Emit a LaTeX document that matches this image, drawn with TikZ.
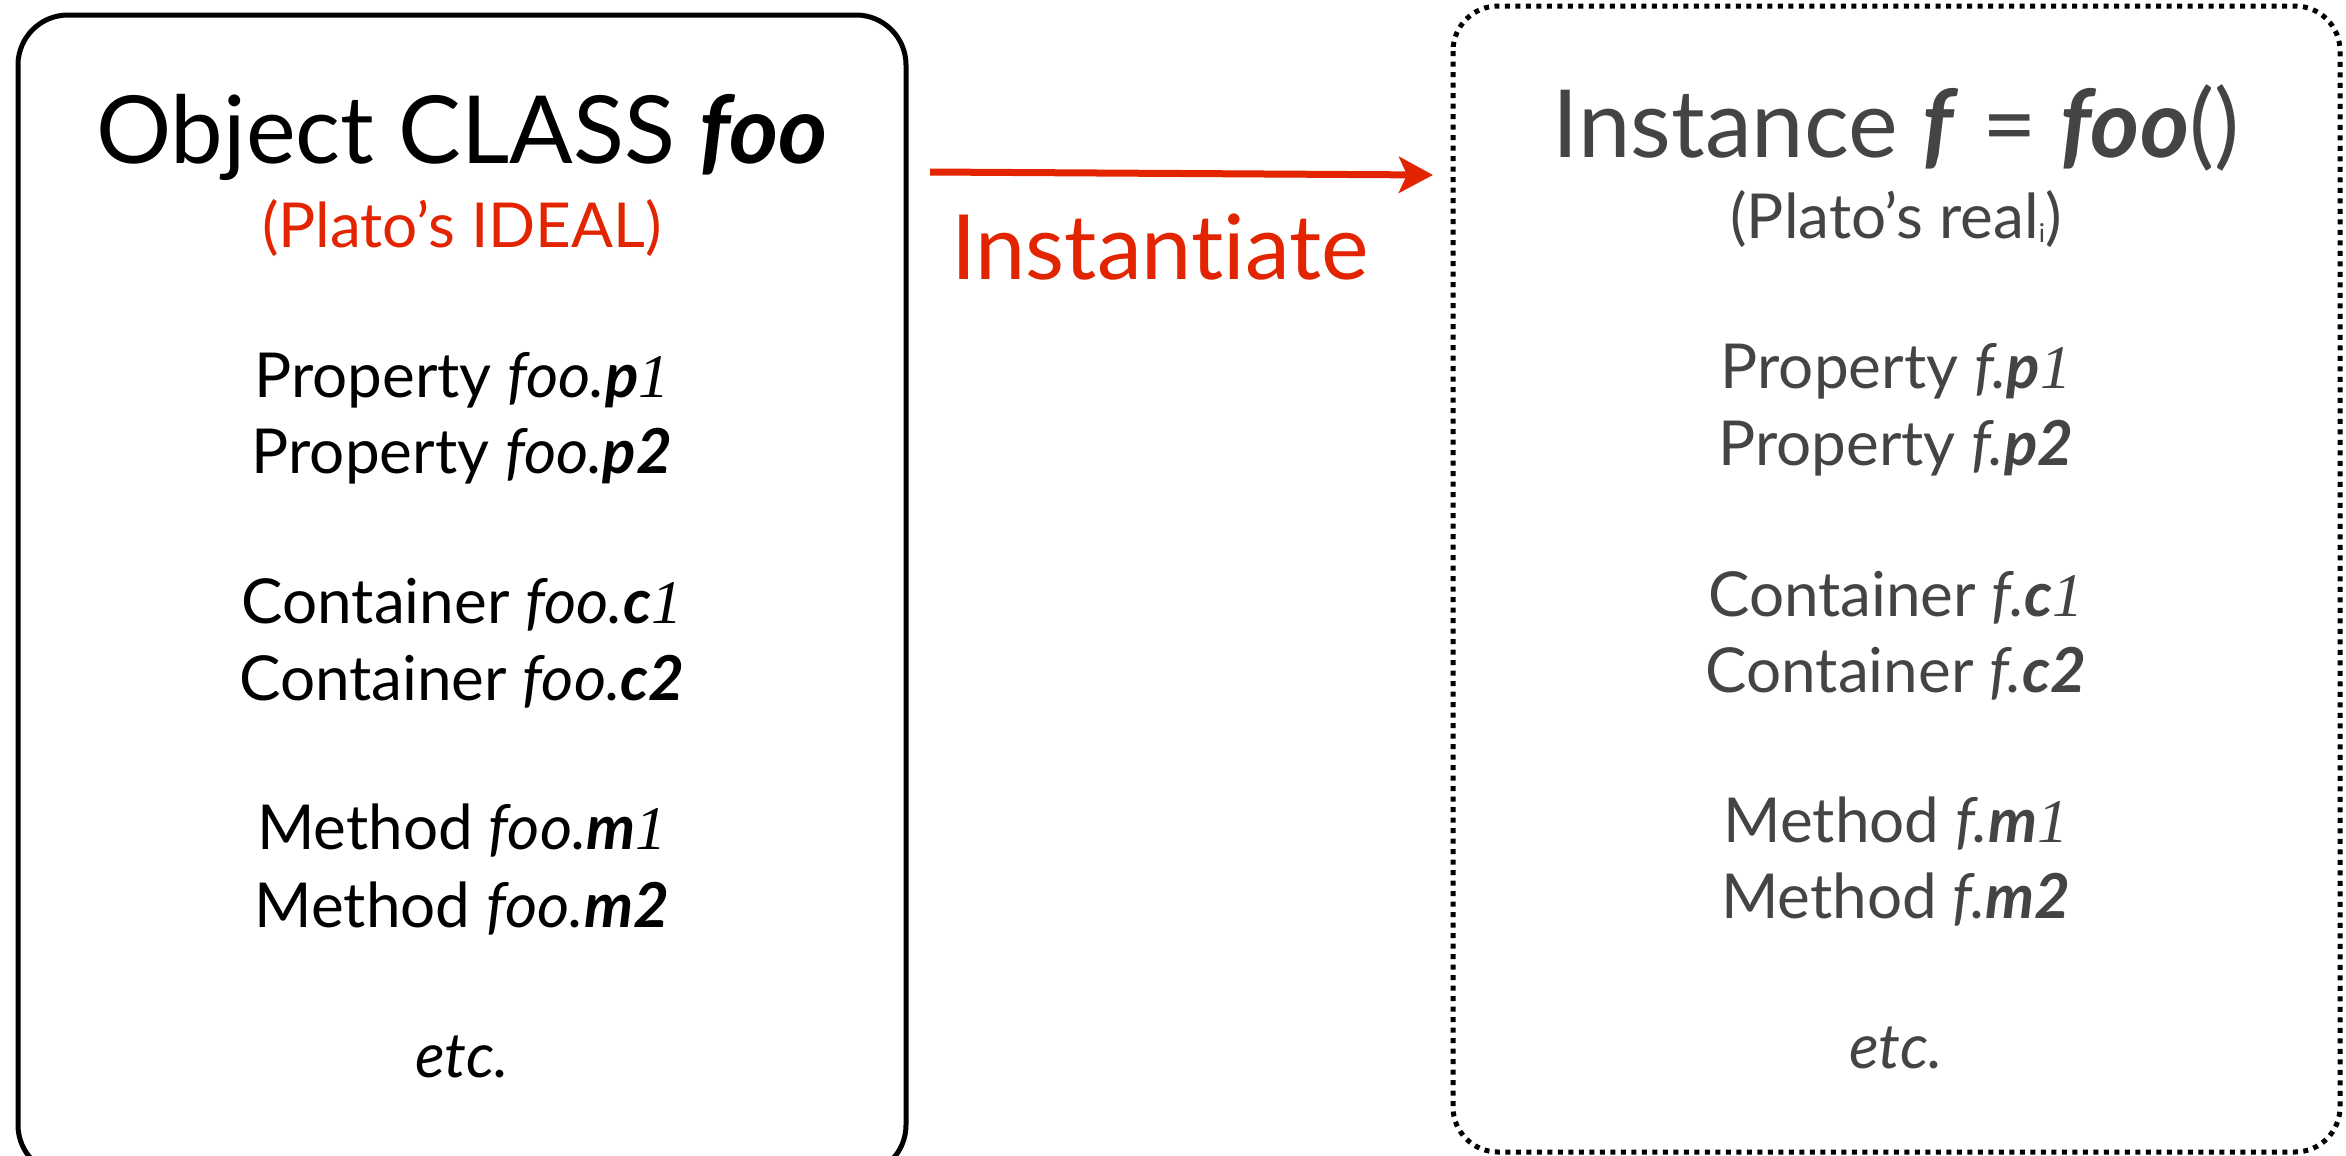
\documentclass[tikz,border=0pt]{standalone}
\usepackage{fontspec}
\setmainfont{Lato}[RawFeature={-liga;-dlig;-calt}]
\newfontfamily\onefont{Liberation Serif}
\usetikzlibrary{arrows.meta}
\definecolor{redc}{HTML}{E22400}
\definecolor{grayc}{HTML}{444444}
\newcommand{\onei}{{\onefont\itshape\mdseries 1}}
\newcommand{\bi}[1]{\textbf{\textit{#1}}}
\newcommand{\subi}{\raisebox{-4bp}{\fontsize{26bp}{26bp}\selectfont i}}
\begin{document}
\begin{tikzpicture}[x=1bp,y=-1bp,
  title/.style={anchor=base,inner sep=0pt,font=\fontsize{94bp}{100bp}\selectfont},
  sub/.style={anchor=base,inner sep=0pt,font=\fontsize{62bp}{70bp}\selectfont},
  item/.style={anchor=base,inner sep=0pt,font=\fontsize{62bp}{70bp}\selectfont},
  classbox/.style={draw=black,line width=5bp,rounded corners=50bp},
  instbox/.style={draw=black,line width=5bp,rounded corners=45bp,dash pattern=on 5bp off 5.5bp},
  instarrow/.style={draw=redc,line width=7bp,-{Stealth[length=34bp,width=36bp,inset=8bp]}}
]
\useasboundingbox (0,0) rectangle (2346,1155);
\clip (0,0) rectangle (2346,1155);
\fill[white] (0,0) rectangle (2346,1155);
% boxes
\draw[classbox] (18,15) rectangle (906,1175);
\draw[instbox] (1453,6) rectangle (2340,1152);
% left box text
\node[title] (ltitle) at (462,163) {Object CLASS \bi{foo}};
\node[sub,text=redc] (lsub) at (462,247) {(Plato’s IDEAL)};
\node[item] (lp1) at (462,397) {Property \textit{foo.}\bi{p}\onei};
\node[item] (lp2) at (462,473) {Property \textit{foo.}\bi{p2}};
\node[item] (lc1) at (462,623) {Container \textit{foo.}\bi{c}\onei};
\node[item] (lc2) at (462,700) {Container \textit{foo.}\bi{c2}};
\node[item] (lm1) at (462,849) {Method \textit{foo.}\bi{m}\onei};
\node[item] (lm2) at (462,927) {Method \textit{foo.}\bi{m2}};
\node[item] (letc) at (462,1077) {\textit{etc.}};
% right box text
\begin{scope}[text=grayc]
\node[title] (rtitle) at (1896,157) {Instance \bi{f} = \bi{foo}()};
\node[sub] (rsub) at (1896,238) {(Plato’s real\subi)};
\node[item] (rp1) at (1896,388) {Property \textit{f.}\bi{p}\onei};
\node[item] (rp2) at (1896,465) {Property \textit{f.}\bi{p2}};
\node[item] (rc1) at (1896,616) {Container \textit{f.}\bi{c}\onei};
\node[item] (rc2) at (1896,692) {Container \textit{f.}\bi{c2}};
\node[item] (rm1) at (1896,842) {Method \textit{f.}\bi{m}\onei};
\node[item] (rm2) at (1896,918) {Method \textit{f.}\bi{m2}};
\node[item] (retc) at (1896,1068) {\textit{etc.}};
\end{scope}
% arrow
\coordinate (arrS) at (930,172);
\coordinate (arrE) at (1433,175);
\draw[instarrow] (arrS) -- (arrE);
\node[title,text=redc,font=\fontsize{90bp}{100bp}\selectfont] (inst) at (1160,279) {Instant\kern0pt iate};
\end{tikzpicture}
\end{document}
